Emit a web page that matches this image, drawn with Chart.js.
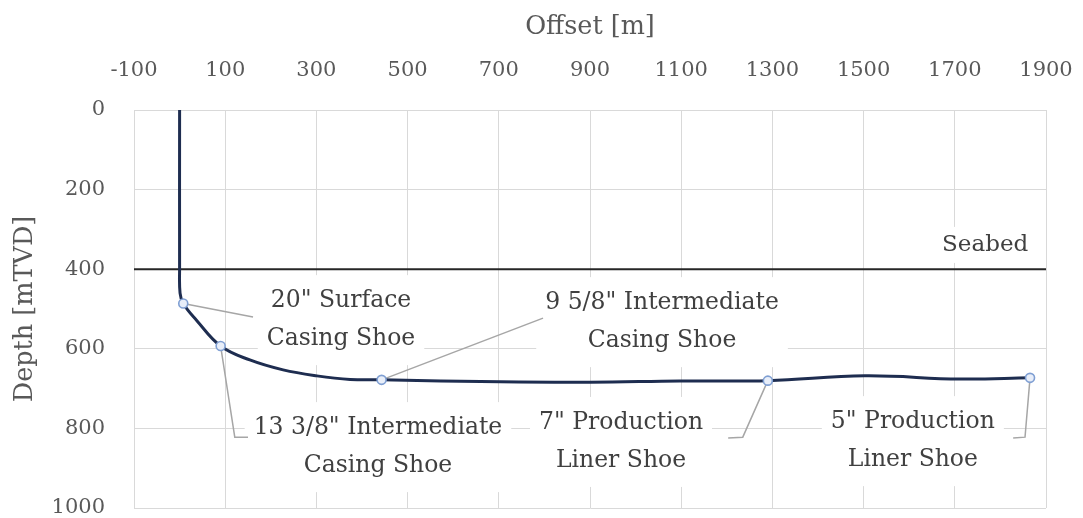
<!DOCTYPE html>
<html><head><meta charset="utf-8">
<script src="https://cdn.jsdelivr.net/npm/chart.js@4.4.1/dist/chart.umd.min.js"></script>
<style>html,body{margin:0;padding:0;background:#fff;overflow:hidden}canvas{display:block}</style>
</head><body><canvas id="c" width="1083" height="518" style="width:1083px;height:518px"></canvas>
<script>
// ---- data ----
const xTickValues = [-100, 100, 300, 500, 700, 900, 1100, 1300, 1500, 1700, 1900];
const yTickValues = [0, 200, 400, 600, 800, 1000];
const trajOffset = [0, 0, 1, 8, 37, 90, 154, 227, 301, 374, 443, 703, 900, 1097, 1290, 1503, 1711, 1865];
const trajDepth  = [0, 397, 460, 486, 528, 593, 628, 653, 668, 677, 678, 683, 684, 681, 680, 668, 676, 673];
const shoeNames  = [["20\" Surface", "Casing Shoe"], ["13 3/8\" Intermediate", "Casing Shoe"], ["9 5/8\" Intermediate", "Casing Shoe"], ["7\" Production", "Liner Shoe"], ["5\" Production", "Liner Shoe"]];
const shoeOffset = [8, 90, 443, 1290, 1865];
const shoeDepth  = [486, 593, 678, 680, 673];
const seabedDepth = 400;
const seabedLabel = "Seabed";
const xTitle = "Offset [m]";
const yTitle = "Depth [mTVD]";

// ---- callout layout (data units, label placement only) ----
const calloutCenter = [[354, 528], [435, 847], [1058, 533], [968, 834], [1608, 832]];
const calloutLeader = [[[161, 520]], [[121, 822], [150, 822]], [[797, 523]], [[1235, 822], [1203, 824]], [[1854, 822], [1828, 824]]];
const seabedLabelAt = [1861, 339];

const FAM = '"DejaVu Serif", serif';

const callouts = {
  id: 'callouts',
  beforeDatasetsDraw(chart) {
    const {ctx, scales: {x, y}} = chart;
    ctx.save();
    const lh = 38;
    ctx.font = '23.5px ' + FAM;
    const boxes = shoeNames.map((lines, i) => {
      const cx = x.getPixelForValue(calloutCenter[i][0]);
      const cy = y.getPixelForValue(calloutCenter[i][1]);
      const w = Math.max(...lines.map(l => ctx.measureText(l).width));
      return {cx, cy, w};
    });
    ctx.fillStyle = '#ffffff';
    boxes.forEach(b => ctx.fillRect(b.cx - b.w / 2 - 9, b.cy - lh / 2 - 26, b.w + 18, lh + 52));
    // seabed label box
    ctx.font = '23px ' + FAM;
    const sx = x.getPixelForValue(seabedLabelAt[0]);
    const sy = y.getPixelForValue(seabedLabelAt[1]);
    const sw = ctx.measureText(seabedLabel).width;
    ctx.fillRect(sx - sw - 6, sy - 18, sw + 12, 36);
    ctx.fillStyle = '#404040';
    ctx.textAlign = 'right';
    ctx.textBaseline = 'middle';
    ctx.fillText(seabedLabel, sx, sy);
    // leaders
    ctx.strokeStyle = '#a6a6a6';
    ctx.lineWidth = 1.5;
    shoeNames.forEach((lines, i) => {
      ctx.beginPath();
      ctx.moveTo(x.getPixelForValue(shoeOffset[i]), y.getPixelForValue(shoeDepth[i]));
      calloutLeader[i].forEach(p => ctx.lineTo(x.getPixelForValue(p[0]), y.getPixelForValue(p[1])));
      ctx.stroke();
    });
    // texts
    ctx.font = '23.5px ' + FAM;
    ctx.fillStyle = '#404040';
    ctx.textAlign = 'center';
    ctx.textBaseline = 'middle';
    shoeNames.forEach((lines, i) => {
      const b = boxes[i];
      lines.forEach((l, k) => ctx.fillText(l, b.cx, b.cy + (k - (lines.length - 1) / 2) * lh));
    });
    ctx.restore();
  }
};

new Chart(document.getElementById('c'), {
  type: 'scatter',
  data: {
    datasets: [
      {
        label: 'Shoes',
        data: shoeOffset.map((v, i) => ({x: v, y: shoeDepth[i]})),
        pointRadius: 4.5,
        pointBackgroundColor: '#e8eef9',
        pointBorderColor: '#7f9fd3',
        pointBorderWidth: 1.6,
        order: 0
      },
      {
        label: 'Trajectory',
        data: trajOffset.map((v, i) => ({x: v, y: trajDepth[i]})),
        showLine: true,
        borderColor: '#1e2d50',
        borderWidth: 3,
        pointRadius: 0,
        tension: 0.4,
        order: 1
      },
      {
        label: 'Seabed',
        data: [{x: xTickValues[0], y: seabedDepth}, {x: xTickValues[xTickValues.length - 1], y: seabedDepth}],
        showLine: true,
        borderColor: '#262626',
        borderWidth: 2,
        pointRadius: 0,
        order: 2
      }
    ]
  },
  options: {
    responsive: false,
    maintainAspectRatio: false,
    devicePixelRatio: 1,
    animation: false,
    layout: {padding: {left: 0, right: 37, top: 0, bottom: 10}},
    plugins: {legend: {display: false}, tooltip: {enabled: false}},
    scales: {
      x: {
        type: 'linear', position: 'top',
        min: xTickValues[0], max: xTickValues[xTickValues.length - 1],
        afterBuildTicks: s => { s.ticks = xTickValues.map(v => ({value: v})); },
        afterFit: s => { s.height = 110; s.paddingLeft = 0; s.paddingRight = 0; },
        grid: {color: '#d9d9d9', lineWidth: 1, drawTicks: false},
        border: {color: '#d9d9d9'},
        ticks: {color: '#595959', font: {family: FAM, size: 21}, padding: 27, maxRotation: 0, autoSkip: false, callback: v => String(v)},
        title: {display: true, text: xTitle, color: '#595959', font: {family: FAM, size: 25.5}, padding: {top: 12, bottom: 0}}
      },
      y: {
        type: 'linear', reverse: true,
        min: yTickValues[0], max: yTickValues[yTickValues.length - 1],
        afterBuildTicks: s => { s.ticks = yTickValues.map(v => ({value: v})); },
        afterFit: s => { s.width = 134; s.paddingTop = 0; s.paddingBottom = 0; },
        grid: {color: '#d9d9d9', lineWidth: 1, drawTicks: false},
        border: {color: '#d9d9d9'},
        ticks: {color: '#595959', font: {family: FAM, size: 21}, padding: 29, autoSkip: false, callback: v => String(v)},
        title: {display: true, text: yTitle, color: '#595959', font: {family: FAM, size: 25.5}, padding: {top: 10, bottom: 0}}
      }
    }
  },
  plugins: [callouts]
});
</script></body></html>
